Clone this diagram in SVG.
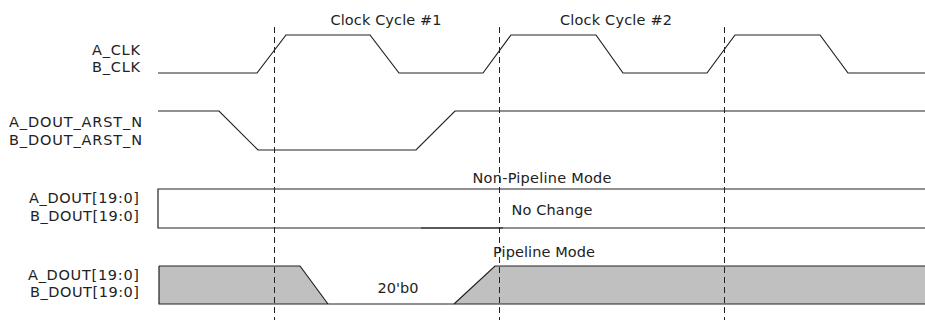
<svg xmlns="http://www.w3.org/2000/svg" width="925" height="320" viewBox="0 0 925 320">
<style>
.lbl{font-family:"DejaVu Sans",Verdana,sans-serif;font-size:14.5px;fill:#222}
.r{text-anchor:end}
.m{text-anchor:middle}
.w{fill:none;stroke:#222;stroke-width:1.2}
.d{fill:none;stroke:#222;stroke-width:1;stroke-dasharray:6 4}
.g{fill:#c0c0c0;stroke:none}
</style>
<rect width="925" height="320" fill="#fff"/>
<g id="labels">
<text class="lbl m" x="386" y="25" textLength="111" lengthAdjust="spacing">Clock Cycle #1</text>
<text class="lbl m" x="616" y="25" textLength="112" lengthAdjust="spacing">Clock Cycle #2</text>
<text class="lbl r" x="140" y="55" textLength="48" lengthAdjust="spacing">A_CLK</text>
<text class="lbl r" x="140" y="72" textLength="48" lengthAdjust="spacing">B_CLK</text>
<text class="lbl r" x="142" y="127" textLength="133" lengthAdjust="spacing">A_DOUT_ARST_N</text>
<text class="lbl r" x="142" y="145" textLength="133" lengthAdjust="spacing">B_DOUT_ARST_N</text>
<text class="lbl r" x="139" y="203" textLength="110" lengthAdjust="spacing">A_DOUT[19:0]</text>
<text class="lbl r" x="139" y="221" textLength="109" lengthAdjust="spacing">B_DOUT[19:0]</text>
<text class="lbl r" x="139" y="280" textLength="111" lengthAdjust="spacing">A_DOUT[19:0]</text>
<text class="lbl r" x="139" y="297" textLength="109" lengthAdjust="spacing">B_DOUT[19:0]</text>
</g>
<g id="clk">
<polyline class="w" points="158,73 257,73 286,35 370,35 399,73 483,73 511,35 596,35 623,73 707,73 735,35 820,35 848,73 925,73"/>
</g>
<g id="arst">
<polyline class="w" points="158,111 219,111 258,150 416,150 455,111 925,111"/>
</g>
<g id="nonpipe">
<polyline class="w" points="925,189 158,189 158,228 925,228"/>
<line class="w" x1="421" y1="228" x2="503" y2="228" stroke-width="1.8"/>
<text class="lbl m" x="542" y="183" textLength="139" lengthAdjust="spacing">Non-Pipeline Mode</text>
<text class="lbl m" x="552" y="215" textLength="81" lengthAdjust="spacing">No Change</text>
</g>
<g id="pipe">
<polygon class="g" points="159,266 300,266 328,304 159,304"/>
<polygon class="g" points="454,304 495,266 925,266 925,304"/>
<polyline class="w" points="159,266 300,266 328,304"/>
<polyline class="w" points="454,304 495,266 925,266"/>
<polyline class="w" points="925,304 159,304 159,266"/>
<text class="lbl m" x="544" y="257" textLength="102" lengthAdjust="spacing">Pipeline Mode</text>
<text class="lbl m" x="398" y="293" textLength="41" lengthAdjust="spacing">20'b0</text>
</g>
<g id="connectors">
<line class="d" x1="274.5" y1="27" x2="274.5" y2="320"/>
<line class="d" x1="499.5" y1="27" x2="499.5" y2="320"/>
<line class="d" x1="724.5" y1="27" x2="724.5" y2="320"/>
</g>
</svg>
